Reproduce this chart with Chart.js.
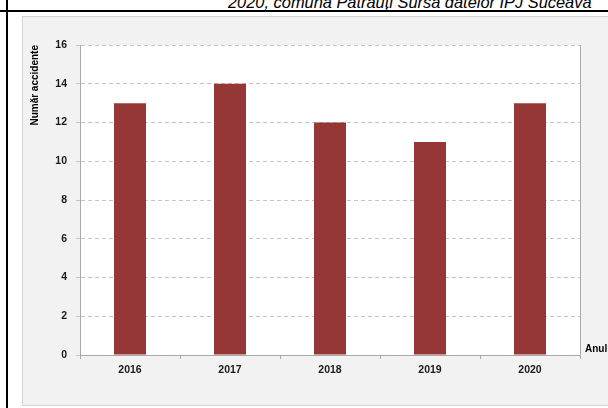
<!DOCTYPE html>
<html>
<head>
<meta charset="utf-8">
<script src="https://cdn.jsdelivr.net/npm/chart.js@4"></script>
<style>
  html, body { margin: 0; padding: 0; background: #ffffff; }
  body { width: 608px; height: 408px; position: relative; overflow: hidden; }
  #caption {
    position: absolute; left: 228px; top: -8px;
    font: italic 16.4px "Liberation Sans", Arial, sans-serif;
    line-height: 20px; color: #000; white-space: nowrap;
  }
  #hline { position: absolute; left: 0; top: 10px; width: 608px; height: 2px; background: #000; }
  #vline { position: absolute; left: 6px; top: 0; width: 2px; height: 408px; background: #000; }
  #panel {
    position: absolute; left: 22px; top: 16px; width: 640px; height: 388px;
    background: #f2f2f2; border: 1px solid #d4d4d4;
  }
  #chartBox { position: absolute; left: 0; top: 0; width: 608px; height: 408px; }
</style>
</head>
<body>
<div id="caption">2020, comuna Pătrăuți Sursa datelor IPJ Suceava</div>
<div id="hline"></div>
<div id="vline"></div>
<div id="panel"></div>
<div id="chartBox"><canvas id="chart" width="608" height="408"></canvas></div>
<script>
// Road accidents per year
const years = ['2016', '2017', '2018', '2019', '2020'];
const accidents = [13, 14, 12, 11, 13];
const yMin = 0;
const yMax = 16;
const yStep = 2;
const yTitle = 'Număr accidente';
const xTitle = 'Anul';

const FONT = '"Liberation Sans", Arial, sans-serif';
const AXIS_GRAY = '#a9a9a9';

// White plot area, right border line and the "Anul" label next to the x axis
const plotFrame = {
  id: 'plotFrame',
  beforeDraw(chart) {
    const { ctx, chartArea: a } = chart;
    ctx.save();
    ctx.fillStyle = '#ffffff';
    ctx.fillRect(a.left, a.top, a.right - a.left, a.bottom - a.top);
    ctx.restore();
  },
  afterDraw(chart) {
    const { ctx, chartArea: a } = chart;
    ctx.save();
    ctx.strokeStyle = AXIS_GRAY;
    ctx.lineWidth = 1;
    ctx.beginPath();
    ctx.moveTo(a.right + 0.5, a.top);
    ctx.lineTo(a.right + 0.5, a.bottom + 4);
    ctx.stroke();
    ctx.fillStyle = '#000000';
    ctx.font = 'bold 10px ' + FONT;
    ctx.textAlign = 'left';
    ctx.textBaseline = 'middle';
    ctx.fillText(xTitle, a.right + 5, a.bottom - 6);
    ctx.restore();
  }
};

new Chart(document.getElementById('chart'), {
  type: 'bar',
  data: {
    labels: years,
    datasets: [{
      data: accidents,
      backgroundColor: '#953735',
      borderWidth: 0,
      barPercentage: 0.32,
      categoryPercentage: 1
    }]
  },
  options: {
    responsive: false,
    animation: false,
    layout: { padding: { left: 0, top: 45, right: 28, bottom: 0 } },
    plugins: { legend: { display: false }, tooltip: { enabled: false } },
    scales: {
      x: {
        afterFit(scale) { scale.height = 53; },
        grid: {
          offset: true,
          drawOnChartArea: false,
          drawTicks: true,
          tickLength: 4,
          color: AXIS_GRAY
        },
        border: { display: true, color: AXIS_GRAY, width: 1 },
        ticks: {
          padding: 5,
          color: '#1a1a1a',
          font: { family: FONT, size: 10.5, weight: 'bold' }
        }
      },
      y: {
        min: yMin,
        max: yMax,
        afterFit(scale) { scale.width = 80; },
        ticks: {
          stepSize: yStep,
          padding: 9,
          color: '#1a1a1a',
          font: { family: FONT, size: 10.5, weight: 'bold' }
        },
        grid: {
          color: '#c4c4c4',
          lineWidth: 1,
          drawTicks: true,
          tickLength: 4,
          tickColor: '#c4c4c4'
        },
        border: { display: true, color: AXIS_GRAY, width: 1, dash: [4, 3] },
        title: {
          display: true,
          text: yTitle,
          align: 'end',
          color: '#000000',
          padding: { top: 29.5, bottom: 0 },
          font: { family: FONT, size: 10, weight: 'bold' }
        }
      }
    }
  },
  plugins: [plotFrame]
});
</script>
</body>
</html>
